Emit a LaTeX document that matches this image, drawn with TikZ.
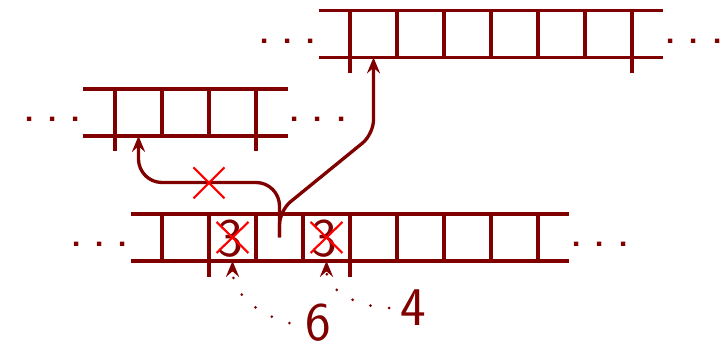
\documentclass[tikz,border=0pt]{standalone}
\usepackage{tikz}
\usetikzlibrary{arrows.meta}
\definecolor{maroon}{RGB}{128,0,0}
\newcommand\dotrow{.\hspace{0.19cm}.\hspace{0.19cm}.}

\begin{document}
\begin{tikzpicture}[color=maroon, line width=2pt,
  every node/.style={font=\fontsize{33}{40}\sffamily\selectfont, inner sep=0pt},
  ptr/.style={-{Stealth[length=3.4mm, width=2.8mm, inset=1.2mm]}},
  hint/.style={ptr, line width=1.8pt, line cap=round, dash pattern=on 0pt off 0.4cm},
  cross/.style={red, line width=1.3pt}]
\useasboundingbox (-0.447,-1.787) rectangle (15,5.553);
% Bottom array
\draw (2.34,0) -- (11.66,0); \draw (2.34,1) -- (11.66,1);
\foreach \x in {3,...,11} { \draw (\x,0) -- (\x,1); }
\draw (4,0) -- (4,-0.34); \draw (7,0) -- (7,-0.34);
\node[anchor=base] (bl) at (1.67,0.3) {\dotrow}; \node[anchor=base] (br) at (12.32,0.3) {\dotrow};
% Middle array
\draw (1.32,2.66) -- (5.68,2.66); \draw (1.32,3.66) -- (5.68,3.66);
\foreach \x in {2,...,5} { \draw (\x,2.66) -- (\x,3.66); }
\draw (2,2.66) -- (2,2.34); \draw (5,2.66) -- (5,2.34);
\node[anchor=base] (ml) at (0.68,2.96) {\dotrow}; \node[anchor=base] (mr) at (6.32,2.96) {\dotrow};
% Top array
\draw (6.34,4.33) -- (13.66,4.33); \draw (6.34,5.33) -- (13.66,5.33);
\foreach \x in {7,...,13} { \draw (\x,4.33) -- (\x,5.33); }
\draw (7,4.33) -- (7,4.0); \draw (13,4.33) -- (13,4.0);
\node[anchor=base] (tl) at (5.68,4.63) {\dotrow}; \node[anchor=base] (tr) at (14.32,4.63) {\dotrow};
% Crossed-out entries
\foreach \x/\n in {4.5/a, 6.5/b} {
  \node (old\n) at (\x-0.05,0.48) {3};
  \draw[cross] (\x-0.34,0.83) -- (\x+0.34,0.17); \draw[cross] (\x-0.34,0.17) -- (\x+0.34,0.83);
}
% Pointers
\coordinate (stem) at (5.5,0.5); \coordinate (m) at (2.5,2.66); \coordinate (t) at (7.5,4.33);
\draw[ptr, rounded corners=0.5cm] (stem) |- (4,1.67) -| (m);
\draw[ptr, rounded corners=0.3cm] (stem) -- (5.5,1.07) -- (7.5,2.7) -- (t);
\draw[cross] (3.67,1.33) -- (4.33,1.99); \draw[cross] (3.67,1.99) -- (4.33,1.33);
% Labels
\node (six) at (6.32,-1.32) {6}; \node (four) at (8.34,-1.0) {4};
\coordinate (pa) at (4.5,0); \coordinate (pb) at (6.5,0);
\draw[hint] ([xshift=-3mm]six.west) to[out=165,in=-90] (pa);
\draw[hint] ([xshift=-2mm]four.west) to[out=178,in=-90] (pb);
\end{tikzpicture}
\end{document}
